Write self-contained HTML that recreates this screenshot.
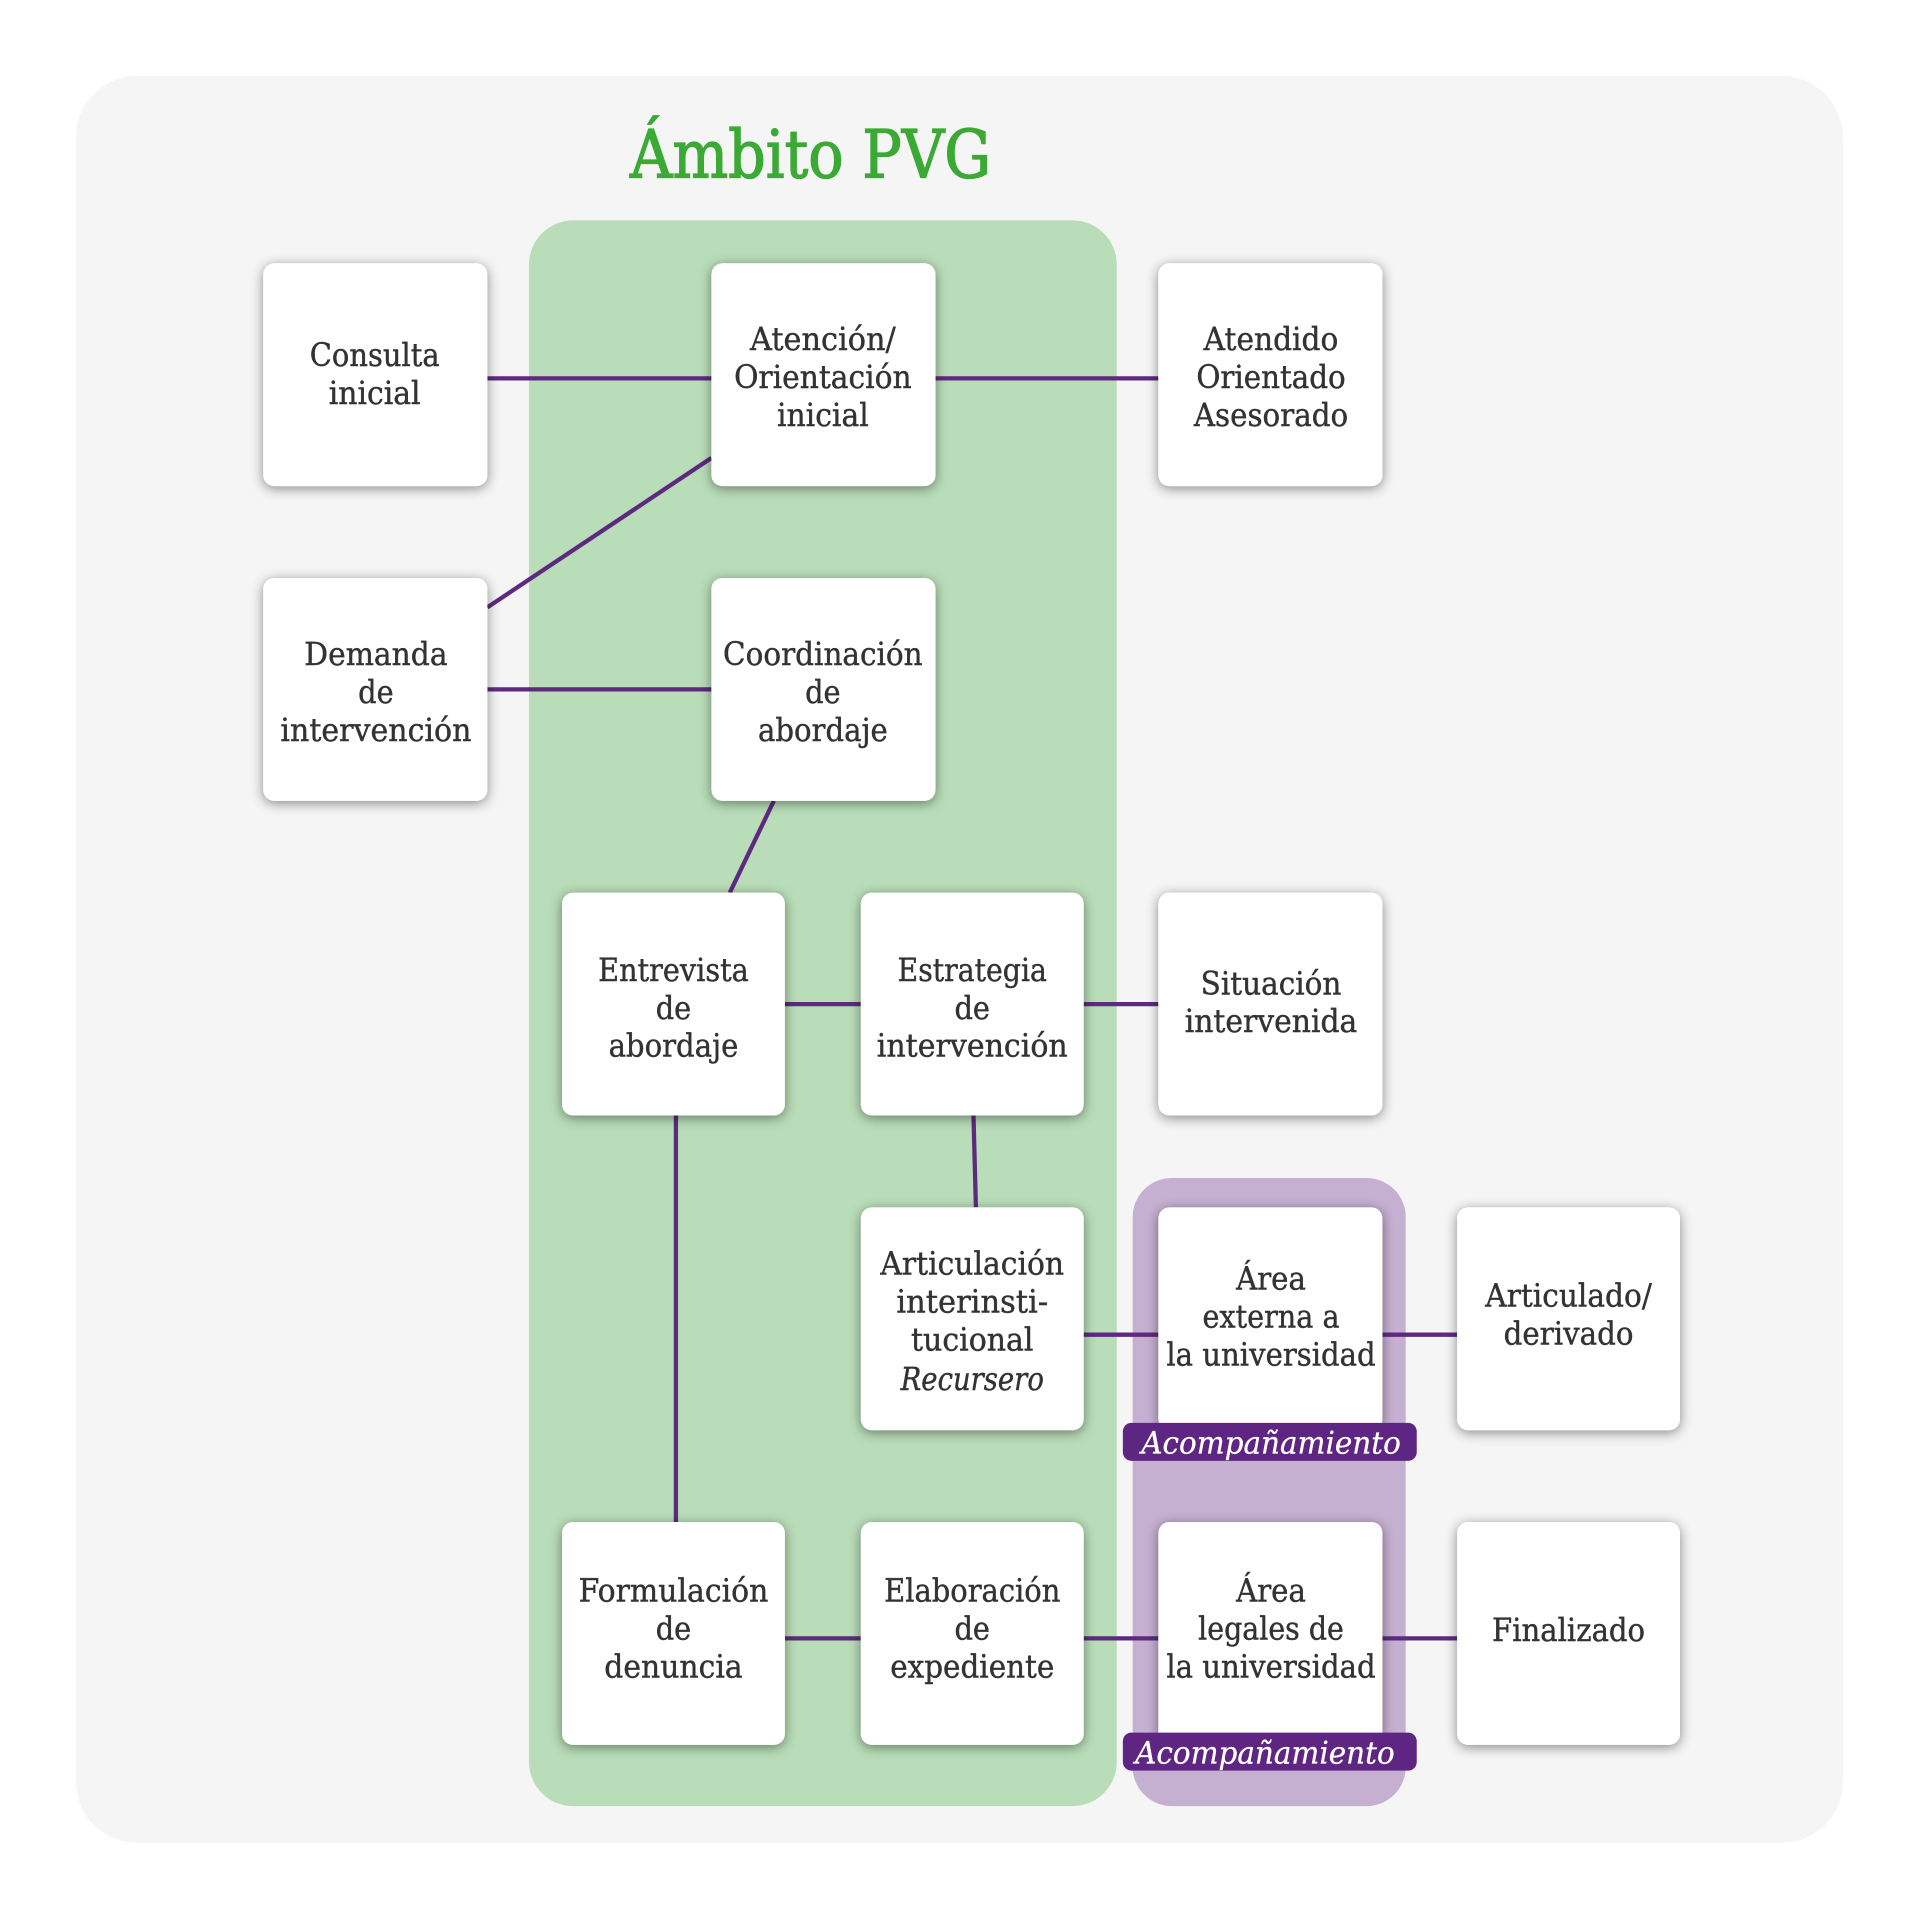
<!DOCTYPE html>
<html>
<head>
<meta charset="utf-8">
<style>
  html,body{margin:0;padding:0;background:#ffffff;}
  svg{display:block;}
  .t{font-family:"DejaVu Serif","Liberation Serif",serif;font-size:26px;fill:#333333;stroke:#333333;stroke-width:0.35px;text-anchor:middle;}
  .ti{font-family:"DejaVu Serif","Liberation Serif",serif;font-size:26px;fill:#333333;stroke:#333333;stroke-width:0.35px;text-anchor:middle;font-style:italic;}
  .w{font-family:"DejaVu Serif","Liberation Serif",serif;font-size:25px;fill:#ffffff;stroke:#ffffff;stroke-width:0.25px;text-anchor:middle;font-style:italic;}
  .ttl{font-family:"DejaVu Serif","Liberation Serif",serif;font-size:54px;fill:#3aaa35;stroke:#3aaa35;stroke-width:1.1px;text-anchor:middle;}
</style>
</head>
<body>
<svg width="1920" height="1920" viewBox="0 0 1568 1568" xmlns="http://www.w3.org/2000/svg">
  <defs>
    <filter id="sh" x="-20%" y="-20%" width="140%" height="140%">
      <feDropShadow dx="0" dy="2" stdDeviation="5" flood-color="#000" flood-opacity="0.45"/>
    </filter>
  </defs>

  <rect x="0" y="0" width="1568" height="1568" fill="#ffffff"/>
  <rect x="62" y="62" width="1443" height="1443" rx="50" ry="50" fill="#f5f5f5"/>

  <text class="ttl" x="662" y="145" textLength="295" lengthAdjust="spacingAndGlyphs">Ámbito PVG</text>

  <!-- regions -->
  <rect x="432" y="180" width="480" height="1295" rx="36" ry="36" fill="#b9ddb8"/>
  <rect x="925" y="962" width="223" height="513" rx="32" ry="32" fill="#c5b0d1"/>

  <!-- connectors -->
  <g stroke="#5e2a80" stroke-width="3.5" fill="none">
    <line x1="398" y1="309" x2="581" y2="309"/>
    <line x1="764" y1="309" x2="946" y2="309"/>
    <line x1="398" y1="496" x2="581" y2="374"/>
    <line x1="398" y1="563" x2="581" y2="563"/>
    <line x1="632" y1="654" x2="596" y2="729"/>
    <line x1="641" y1="820" x2="703" y2="820"/>
    <line x1="885" y1="820" x2="946" y2="820"/>
    <line x1="795" y1="911" x2="797" y2="986"/>
    <line x1="552" y1="911" x2="552" y2="1243"/>
    <line x1="885" y1="1090" x2="946" y2="1090"/>
    <line x1="1129" y1="1090" x2="1190" y2="1090"/>
    <line x1="641" y1="1338" x2="703" y2="1338"/>
    <line x1="885" y1="1338" x2="946" y2="1338"/>
    <line x1="1129" y1="1338" x2="1190" y2="1338"/>
  </g>

  <!-- boxes -->
  <g fill="#ffffff" filter="url(#sh)">
    <rect x="215" y="215" width="183" height="182" rx="9"/>
    <rect x="581" y="215" width="183" height="182" rx="9"/>
    <rect x="946" y="215" width="183" height="182" rx="9"/>
    <rect x="215" y="472" width="183" height="182" rx="9"/>
    <rect x="581" y="472" width="183" height="182" rx="9"/>
    <rect x="459" y="729" width="182" height="182" rx="9"/>
    <rect x="703" y="729" width="182" height="182" rx="9"/>
    <rect x="946" y="729" width="183" height="182" rx="9"/>
    <rect x="703" y="986" width="182" height="182" rx="9"/>
    <rect x="946" y="986" width="183" height="182" rx="9"/>
    <rect x="1190" y="986" width="182" height="182" rx="9"/>
    <rect x="459" y="1243" width="182" height="182" rx="9"/>
    <rect x="703" y="1243" width="182" height="182" rx="9"/>
    <rect x="946" y="1243" width="183" height="182" rx="9"/>
    <rect x="1190" y="1243" width="182" height="182" rx="9"/>
  </g>

  <!-- pills -->
  <rect x="917" y="1162" width="240" height="31" rx="7" fill="#5f2582"/>
  <rect x="917" y="1415" width="240" height="31" rx="7" fill="#5f2582"/>

  <!-- labels -->
  <text class="t" x="306" y="299" textLength="106" lengthAdjust="spacingAndGlyphs">Consulta</text>
  <text class="t" x="306" y="330" textLength="75" lengthAdjust="spacingAndGlyphs">inicial</text>

  <text class="t" x="672" y="286" textLength="119" lengthAdjust="spacingAndGlyphs">Atención/</text>
  <text class="t" x="672" y="317" textLength="145" lengthAdjust="spacingAndGlyphs">Orientación</text>
  <text class="t" x="672" y="348" textLength="75" lengthAdjust="spacingAndGlyphs">inicial</text>

  <text class="t" x="1038" y="286" textLength="110" lengthAdjust="spacingAndGlyphs">Atendido</text>
  <text class="t" x="1038" y="317" textLength="122" lengthAdjust="spacingAndGlyphs">Orientado</text>
  <text class="t" x="1038" y="348" textLength="126" lengthAdjust="spacingAndGlyphs">Asesorado</text>

  <text class="t" x="307" y="543" textLength="117" lengthAdjust="spacingAndGlyphs">Demanda</text>
  <text class="t" x="307" y="574" textLength="29" lengthAdjust="spacingAndGlyphs">de</text>
  <text class="t" x="307" y="605" textLength="156" lengthAdjust="spacingAndGlyphs">intervención</text>

  <text class="t" x="672" y="543" textLength="163" lengthAdjust="spacingAndGlyphs">Coordinación</text>
  <text class="t" x="672" y="574" textLength="29" lengthAdjust="spacingAndGlyphs">de</text>
  <text class="t" x="672" y="605" textLength="106" lengthAdjust="spacingAndGlyphs">abordaje</text>

  <text class="t" x="550" y="801" textLength="123" lengthAdjust="spacingAndGlyphs">Entrevista</text>
  <text class="t" x="550" y="832" textLength="29" lengthAdjust="spacingAndGlyphs">de</text>
  <text class="t" x="550" y="863" textLength="106" lengthAdjust="spacingAndGlyphs">abordaje</text>

  <text class="t" x="794" y="801" textLength="122" lengthAdjust="spacingAndGlyphs">Estrategia</text>
  <text class="t" x="794" y="832" textLength="29" lengthAdjust="spacingAndGlyphs">de</text>
  <text class="t" x="794" y="863" textLength="156" lengthAdjust="spacingAndGlyphs">intervención</text>

  <text class="t" x="1038" y="812" textLength="115" lengthAdjust="spacingAndGlyphs">Situación</text>
  <text class="t" x="1038" y="843" textLength="141" lengthAdjust="spacingAndGlyphs">intervenida</text>

  <text class="t" x="794" y="1041" textLength="150" lengthAdjust="spacingAndGlyphs">Articulación</text>
  <text class="t" x="794" y="1072" textLength="124" lengthAdjust="spacingAndGlyphs">interinsti-</text>
  <text class="t" x="794" y="1103" textLength="100" lengthAdjust="spacingAndGlyphs">tucional</text>
  <text class="ti" x="794" y="1135" textLength="117" lengthAdjust="spacingAndGlyphs">Recursero</text>

  <text class="t" x="1038" y="1053" textLength="57" lengthAdjust="spacingAndGlyphs">Área</text>
  <text class="t" x="1038" y="1084" textLength="112" lengthAdjust="spacingAndGlyphs">externa a</text>
  <text class="t" x="1038" y="1115" textLength="171" lengthAdjust="spacingAndGlyphs">la universidad</text>

  <text class="t" x="1281" y="1067" textLength="136" lengthAdjust="spacingAndGlyphs">Articulado/</text>
  <text class="t" x="1281" y="1098" textLength="106" lengthAdjust="spacingAndGlyphs">derivado</text>

  <text class="t" x="550" y="1308" textLength="155" lengthAdjust="spacingAndGlyphs">Formulación</text>
  <text class="t" x="550" y="1339" textLength="29" lengthAdjust="spacingAndGlyphs">de</text>
  <text class="t" x="550" y="1370" textLength="113" lengthAdjust="spacingAndGlyphs">denuncia</text>

  <text class="t" x="794" y="1308" textLength="144" lengthAdjust="spacingAndGlyphs">Elaboración</text>
  <text class="t" x="794" y="1339" textLength="29" lengthAdjust="spacingAndGlyphs">de</text>
  <text class="t" x="794" y="1370" textLength="134" lengthAdjust="spacingAndGlyphs">expediente</text>

  <text class="t" x="1038" y="1308" textLength="57" lengthAdjust="spacingAndGlyphs">Área</text>
  <text class="t" x="1038" y="1339" textLength="119" lengthAdjust="spacingAndGlyphs">legales de</text>
  <text class="t" x="1038" y="1370" textLength="171" lengthAdjust="spacingAndGlyphs">la universidad</text>

  <text class="t" x="1281" y="1340" textLength="125" lengthAdjust="spacingAndGlyphs">Finalizado</text>

  <text class="w" x="1038" y="1187" textLength="212" lengthAdjust="spacingAndGlyphs">Acompañamiento</text>
  <text class="w" x="1033" y="1440" textLength="212" lengthAdjust="spacingAndGlyphs">Acompañamiento</text>
</svg>
</body>
</html>
